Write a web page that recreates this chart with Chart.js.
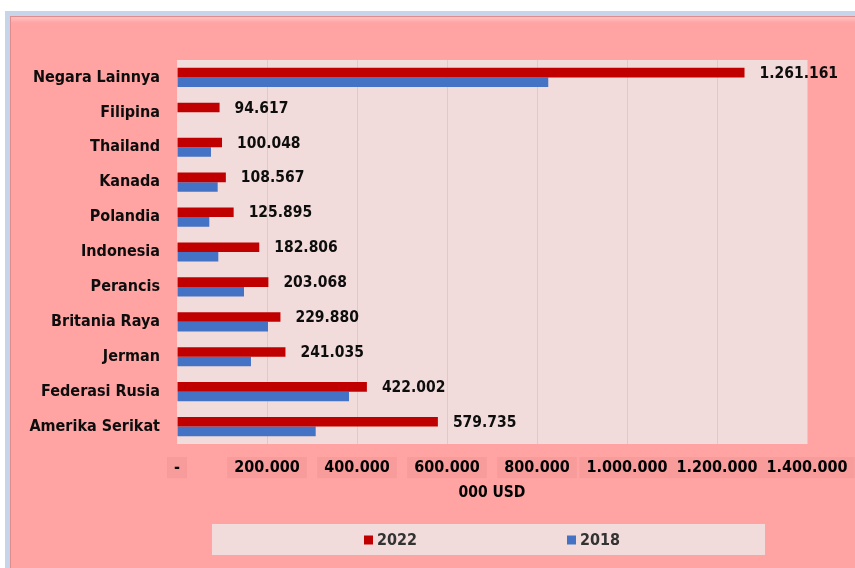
<!DOCTYPE html>
<html>
<head>
<meta charset="utf-8">
<script src="https://cdn.jsdelivr.net/npm/chart.js@4"></script>
<style>
  html, body { margin: 0; padding: 0; background: #fff; width: 855px; height: 568px; overflow: hidden; }
  #frame {
    position: absolute; left: 5px; top: 11px; width: 870px; height: 580px;
    background: #FFA3A3;
    border: 5px solid #C6D5EA;
    box-sizing: border-box;
    box-shadow: inset 1px 1px 0 #E08C8C, inset 0 7px 4px -3px rgba(255,255,255,0.35);
  }
  #chart { position: absolute; left: 0; top: 0; }
</style>
</head>
<body>
<div id="frame"></div>
<canvas id="chart" width="855" height="568"></canvas>
<script>
const countries = ['Negara Lainnya', 'Filipina', 'Thailand', 'Kanada', 'Polandia', 'Indonesia',
  'Perancis', 'Britania Raya', 'Jerman', 'Federasi Rusia', 'Amerika Serikat'];
const values2022 = [1261161, 94617, 100048, 108567, 125895, 182806, 203068, 229880, 241035, 422002, 579735];
const values2018 = [825000, null, 75500, 90400, 71800, 91800, 148900, 202200, 164400, 382200, 308200];
const seriesNames = ['2022', '2018'];
const xMax = 1400000;
const xStep = 200000;

const boldFont = '"DejaVu Sans Condensed", "DejaVu Sans", sans-serif';

function dots(n) {
  return String(Math.round(n)).replace(/\B(?=(\d{3})+(?!\d))/g, '.');
}

// pink plot background
const plotBg = {
  id: 'plotBg',
  beforeDraw(chart) {
    const { ctx, chartArea: a } = chart;
    ctx.save();
    ctx.fillStyle = '#F2DCDB';
    ctx.fillRect(a.left, a.top, a.right - a.left, a.bottom - a.top);
    ctx.restore();
  }
};

// value labels after the 2022 bars
const valueLabels = {
  id: 'valueLabels',
  afterDatasetsDraw(chart) {
    const { ctx } = chart;
    const meta = chart.getDatasetMeta(0);
    ctx.save();
    ctx.font = 'bold 15.5px ' + boldFont;
    ctx.fillStyle = '#0d0d0d';
    ctx.textAlign = 'left';
    ctx.textBaseline = 'middle';
    meta.data.forEach((bar, i) => {
      ctx.fillText(dots(values2022[i]), bar.x + 15, bar.y + 1);
    });
    ctx.restore();
  }
};

// legend with its own light box under the chart
const boxLegend = {
  id: 'boxLegend',
  afterDraw(chart) {
    const { ctx, chartArea: a } = chart;
    const left = a.left + 35, right = a.right - 42;
    const top = a.bottom + 80, h = 31;
    ctx.save();
    ctx.fillStyle = '#F2DCDB';
    ctx.fillRect(left, top, right - left, h);
    ctx.font = 'bold 16px ' + boldFont;
    ctx.textBaseline = 'middle';
    const offsets = [152, 355];
    chart.data.datasets.forEach((ds, i) => {
      const x = left + offsets[i];
      const cy = top + h / 2;
      ctx.fillStyle = ds.backgroundColor;
      ctx.fillRect(x, cy - 4, 9, 9);
      ctx.fillStyle = '#333333';
      ctx.fillText(ds.label, x + 13, cy + 1);
    });
    ctx.restore();
  }
};

new Chart(document.getElementById('chart'), {
  type: 'bar',
  data: {
    labels: countries,
    datasets: [
      { label: seriesNames[0], data: values2022, backgroundColor: '#C00000' },
      { label: seriesNames[1], data: values2018, backgroundColor: '#4472C4' }
    ]
  },
  options: {
    indexAxis: 'y',
    responsive: false,
    animation: false,
    maintainAspectRatio: false,
    layout: { padding: { left: 0, top: 60, right: 48, bottom: 60 } },
    datasets: {
      bar: { categoryPercentage: 0.55, barPercentage: 1.0 }
    },
    plugins: {
      legend: { display: false },
      tooltip: { enabled: false }
    },
    scales: {
      x: {
        min: 0,
        max: xMax,
        ticks: {
          stepSize: xStep,
          padding: 14,
          color: '#000',
          font: { family: boldFont, size: 16, weight: 'bold' },
          callback: v => v === 0 ? '-' : dots(v),
          showLabelBackdrop: true,
          backdropColor: '#F79B9B',
          backdropPadding: { top: 1, bottom: 1, left: 7, right: 7 }
        },
        grid: {
          drawTicks: false,
          color: c => c.index === 0 ? 'rgba(0,0,0,0)' : '#C8D2DB'
        },
        border: { display: false },
        title: {
          display: true,
          text: '000 USD',
          color: '#000',
          font: { family: boldFont, size: 15.5, weight: 'bold' },
          padding: { top: 0, bottom: 6 }
        },
        afterFit: s => { s.height = 64; s.paddingLeft = 0; s.paddingRight = 0; }
      },
      y: {
        grid: { display: false },
        border: { display: false },
        ticks: {
          padding: 9,
          color: '#0d0d0d',
          font: { family: boldFont, size: 16, weight: 'bold' }
        },
        afterFit: s => { s.width = 177; }
      }
    }
  },
  plugins: [plotBg, valueLabels, boxLegend]
});
</script>
</body>
</html>
